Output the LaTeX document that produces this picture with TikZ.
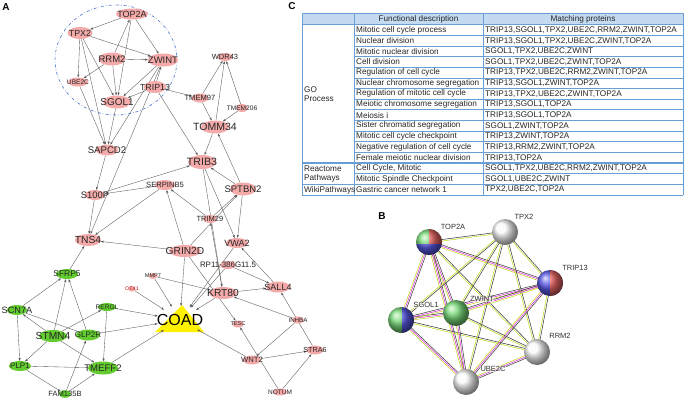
\documentclass[tikz,border=0pt]{standalone}
\usepackage{fontspec}
\setmainfont{Liberation Sans}
\usetikzlibrary{arrows.meta,shapes.geometric,calc}
\pgfdeclarelayer{bgw}
\pgfdeclarelayer{bg}
\pgfsetlayers{bgw,bg,main}
\definecolor{pnk}{HTML}{F5AAAA}
\definecolor{grn}{HTML}{62CC2E}
\definecolor{edg}{HTML}{555555}
\definecolor{tbl}{HTML}{6A9FD6}
\definecolor{hdr}{HTML}{C3DAF0}
\definecolor{ygn}{HTML}{C2DB22}
\definecolor{mag}{HTML}{E030E0}
\definecolor{clu}{HTML}{4A78C8}
\definecolor{sgreen}{HTML}{78D878}
\definecolor{sblue}{HTML}{5858E6}
\definecolor{sred}{HTML}{EA6464}
\newcommand\zb[1]{\makebox[0pt]{#1}}
\newcommand\fsz[1]{\fontsize{#1}{#1}\selectfont}
\newcommand\bii[2]{%
  \draw[bk] ($(#1)!0.75pt!90:(#2)$) -- ($(#2)!0.75pt!-90:(#1)$);
  \draw[yg] ($(#1)!0.75pt!-90:(#2)$) -- ($(#2)!0.75pt!90:(#1)$);}
\newcommand\biii[2]{%
  \draw[bk] ($(#1)!1.4pt!90:(#2)$) -- ($(#2)!1.4pt!-90:(#1)$);
  \draw[mg] (#1.center) -- (#2.center);
  \draw[yg] ($(#1)!1.4pt!-90:(#2)$) -- ($(#2)!1.4pt!90:(#1)$);}
\tikzset{
  pk/.style 2 args={ellipse, fill=pnk, inner sep=0pt, minimum width=#1pt, minimum height=#2pt, text=black!85},
  gk/.style 2 args={ellipse, fill=grn, inner sep=0pt, minimum width=#1pt, minimum height=#2pt, text=black!85},
  ar/.style={draw=edg, line width=0.35pt, -{Stealth[length=3pt,width=2.2pt]}},
  ln/.style={draw=edg, line width=0.35pt},
  bn/.style={circle, minimum size=26pt, inner sep=0pt},
  bk/.style={draw=black!75, line width=0.55pt},
  yg/.style={draw=ygn, line width=0.55pt},
  mg/.style={draw=mag, line width=0.55pt},
  blab/.style={font=\fsz{7.5}, text=black!80, inner sep=0.6pt, fill=white, fill opacity=0.6, text opacity=1},
  plab/.style={font=\fsz{10}\bfseries, inner sep=0pt},
  tb/.style={draw=tbl, line width=0.7pt},
  tx/.style={font=\fsz{8.2}, text=black!85, inner sep=0pt, anchor=west},
}
\begin{document}
\begin{tikzpicture}[x=1pt,y=-1pt]
\useasboundingbox (0,0) rectangle (685,402);
\begin{pgfonlayer}{bgw}
\fill[white] (0,0) rectangle (685,402);
\end{pgfonlayer}

% ---------------- Panel A ----------------
\node[plab] (labA) at (6,7) {A};
\draw[clu, line width=0.6pt, dash dot] (116,60) ellipse [x radius=61, y radius=55];

\node[pk={32}{11}, font=\fsz{9}] (TOP2A) at (132,14) {\zb{TOP2A}};
\node[pk={25}{12}, font=\fsz{8.8}] (TPX2) at (80,33) {\zb{TPX2}};
\node[pk={27}{13}, font=\fsz{9.5}] (RRM2) at (112,59) {\zb{RRM2}};
\node[pk={30}{13}, font=\fsz{9.5}] (ZWINT) at (163,60) {\zb{ZWINT}};
\node[pk={20}{9}, font=\fsz{6.6}] (UBE2C) at (78,82) {\zb{UBE2C}};
\node[pk={22}{12}, font=\fsz{8.8}] (TRIP13) at (155,87) {\zb{TRIP13}};
\node[pk={28}{13}, font=\fsz{9.9}] (SGOL1) at (117,102) {\zb{SGOL1}};
\node[pk={15}{8}, font=\fsz{7.5}] (WDR43) at (225,57) {\zb{WDR43}};
\node[pk={17}{9}, font=\fsz{7.6}] (TMEM97) at (200,98) {\zb{TMEM97}};
\node[pk={12}{8}, font=\fsz{6.6}] (TMEM206) at (242,108) {\zb{TMEM206}};
\node[pk={28}{13}, font=\fsz{10.5}] (TOMM34) at (215,127) {\zb{TOMM34}};
\node[pk={22}{11}, font=\fsz{9.6}] (SAPCD2) at (107,150) {\zb{SAPCD2}};
\node[pk={20}{10}, font=\fsz{9.4}] (S100P) at (95,195) {\zb{S100P}};
\node[pk={20}{10}, font=\fsz{7.6}] (SERPINB5) at (165,185) {\zb{SERPINB5}};
\node[pk={26}{12}, font=\fsz{10.3}] (TNS4) at (88,240) {\zb{TNS4}};
\node[pk={28}{14}, font=\fsz{10.6}] (TRIB3) at (202,162) {\zb{TRIB3}};
\node[pk={26}{13}, font=\fsz{9.5}] (SPTBN2) at (243,189) {\zb{SPTBN2}};
\node[pk={14}{8}, font=\fsz{7.5}] (TRIM29) at (210,219) {\zb{TRIM29}};
\node[pk={22}{10}, font=\fsz{9.1}] (VWA2) at (237,243) {\zb{VWA2}};
\node[pk={32}{12}, font=\fsz{10.2}] (GRIN2D) at (185,251) {\zb{GRIN2D}};
\node[pk={16}{8}, font=\fsz{7.9}] (RP11) at (228,265) {\zb{RP11-386G11.5}};
\node[pk={24}{11}, font=\fsz{9}] (SALL4) at (278,287) {\zb{SALL4}};
\node[pk={28}{12}, font=\fsz{10.2}] (KRT80) at (223,293) {\zb{KRT80}};
\node[pk={9}{6}, font=\fsz{5.6}] (MMP7) at (153,276) {\zb{MMP7}};
\node[pk={7}{5}, font=\fsz{5.2}, text=red!70!black] (OTX1) at (132,289) {\zb{OTX1}};
\node[pk={12}{7}, font=\fsz{5.6}] (TESC) at (238,324) {\zb{TESC}};
\node[pk={12}{7}, font=\fsz{6.2}] (INHBA) at (298,320) {\zb{INHBA}};
\node[pk={17}{9}, font=\fsz{7.2}] (STRA6) at (315,350) {\zb{STRA6}};
\node[pk={18}{9}, font=\fsz{7.7}] (WNT2) at (252,360) {\zb{WNT2}};
\node[pk={14}{7}, font=\fsz{6.5}] (NOTUM) at (280,392) {\zb{NOTUM}};

\node[gk={22}{10}, font=\fsz{8.4}] (SFRP5) at (67,274) {\zb{SFRP5}};
\node[gk={20}{10}, font=\fsz{9.2}] (SCN7A) at (17,310) {\zb{SCN7A}};
\node[gk={18}{8}, font=\fsz{6.6}] (RERGL) at (107,307) {\zb{RERGL}};
\node[gk={28}{12}, font=\fsz{10.2}] (STMN4) at (53,336) {\zb{STMN4}};
\node[gk={24}{11}, font=\fsz{8}] (GLP2R) at (88,335) {\zb{GLP2R}};
\node[gk={22}{10}, font=\fsz{8}] (PLP1) at (20,366) {\zb{PLP1}};
\node[gk={30}{13}, font=\fsz{9.6}] (TMEFF2) at (103,368) {\zb{TMEFF2}};
\node[gk={12}{7}, font=\fsz{7.6}] (FAM135B) at (65,394) {\zb{FAM135B}};

\begin{pgfonlayer}{bgw}
\fill[yellow] (155,332) -- (182,305) -- (204,332) -- cycle;
\end{pgfonlayer}
\node[ellipse, minimum width=46pt, minimum height=28pt, inner sep=0pt, font=\fsz{16}] (COAD) at (180,320) {\zb{COAD}};

% edges of A (behind the nodes)
\begin{pgfonlayer}{bg}
\foreach \a/\b in {TOP2A/TPX2, TOP2A/ZWINT, TPX2/ZWINT, RRM2/TOP2A, TOP2A/SGOL1, RRM2/ZWINT,
  RRM2/UBE2C, RRM2/SGOL1, TPX2/UBE2C, TPX2/SGOL1, TPX2/SAPCD2, UBE2C/SAPCD2, ZWINT/SGOL1,
  TRIP13/SGOL1, TRIP13/ZWINT, ZWINT/TNS4, ZWINT/SAPCD2, SGOL1/SAPCD2, TRIP13/TMEM97, TRIP13/TRIB3,
  TMEM97/WDR43, TOMM34/WDR43, TMEM206/WDR43, TMEM97/TOMM34, TMEM206/TOMM34, TOMM34/TRIB3,
  SPTBN2/TOMM34, SPTBN2/TRIB3, SPTBN2/VWA2, TRIB3/VWA2, TRIB3/KRT80, KRT80/TRIM29,
  TRIM29/SERPINB5, TRIM29/SPTBN2, GRIN2D/SPTBN2, GRIN2D/SERPINB5, GRIN2D/TNS4, SERPINB5/TNS4,
  SERPINB5/S100P, S100P/TRIB3, SAPCD2/S100P, S100P/TNS4, GRIN2D/TESC, RP11/SALL4, SALL4/VWA2,
  KRT80/SALL4, MMP7/KRT80, INHBA/KRT80, INHBA/WNT2, STRA6/SALL4, WNT2/STRA6, NOTUM/STRA6,
  NOTUM/TESC, WNT2/COAD, GRIN2D/COAD, VWA2/COAD, RP11/COAD, KRT80/COAD, MMP7/COAD, OTX1/COAD,
  RERGL/COAD, GLP2R/COAD, TMEFF2/COAD, SFRP5/TNS4, SCN7A/SFRP5, STMN4/SFRP5, GLP2R/SFRP5,
  STMN4/SCN7A, SCN7A/PLP1, STMN4/PLP1, STMN4/TMEFF2, STMN4/RERGL, RERGL/TMEFF2, PLP1/FAM135B,
  FAM135B/TMEFF2, FAM135B/GLP2R}
  \draw[ar] (\a) -- (\b);
\draw[ln] (SCN7A) -- (GLP2R);
\draw[ln] (PLP1) -- (TMEFF2);
\end{pgfonlayer}

% ---------------- Panel B ----------------
\node[plab] (labB) at (382,216) {B};
\node[bn] (bTOP2A) at (429,242) {};
\node[bn] (bTPX2) at (505,232) {};
\node[bn] (bTRIP13) at (550,283) {};
\node[bn] (bRRM2) at (537,352) {};
\node[bn] (bUBE2C) at (466,382) {};
\node[bn] (bZWINT) at (456,313) {};
\node[bn] (bSGOL1) at (401,320) {};

\bii{bTOP2A}{bTPX2}
\biii{bTOP2A}{bTRIP13}
\bii{bTOP2A}{bRRM2}
\biii{bTOP2A}{bZWINT}
\biii{bTOP2A}{bSGOL1}
\biii{bTOP2A}{bUBE2C}
\bii{bTPX2}{bSGOL1}
\bii{bTPX2}{bZWINT}
\bii{bTPX2}{bTRIP13}
\bii{bTPX2}{bRRM2}
\bii{bTPX2}{bUBE2C}
\biii{bSGOL1}{bZWINT}
\biii{bSGOL1}{bTRIP13}
\bii{bSGOL1}{bRRM2}
\biii{bSGOL1}{bUBE2C}
\biii{bZWINT}{bTRIP13}
\biii{bZWINT}{bUBE2C}
\bii{bZWINT}{bRRM2}
\bii{bTRIP13}{bRRM2}
\biii{bTRIP13}{bUBE2C}
\biii{bRRM2}{bUBE2C}

% balls
\shade[ball color=sgreen] (bTOP2A) circle (13pt);
\begin{scope}
  \clip (bTOP2A) ++(0,-14) rectangle ++(14,16);
  \shade[ball color=sred] (bTOP2A) circle (13pt);
\end{scope}
\begin{scope}
  \clip (bTOP2A) ++(-14,2) rectangle ++(28,12);
  \shade[ball color=sblue] (bTOP2A) circle (13pt);
\end{scope}
\shade[ball color=white!95!gray] (bTPX2) circle (13pt);
\shade[ball color=sblue] (bTRIP13) circle (13pt);
\begin{scope}
  \clip (bTRIP13) ++(0,-14) rectangle ++(14,28);
  \shade[ball color=sred] (bTRIP13) circle (13pt);
\end{scope}
\shade[ball color=white!95!gray] (bRRM2) circle (13pt);
\shade[ball color=white!95!gray] (bUBE2C) circle (13pt);
\shade[ball color=sgreen] (bZWINT) circle (13pt);
\shade[ball color=sgreen] (bSGOL1) circle (13pt);
\begin{scope}
  \clip (bSGOL1) ++(1,-14) rectangle ++(14,28);
  \shade[ball color=sblue] (bSGOL1) circle (13pt);
\end{scope}

\node[blab] (lTOP2A) at (453,227) {TOP2A};
\node[blab] (lTPX2) at (524,217) {TPX2};
\node[blab] (lTRIP13) at (575,268) {TRIP13};
\node[blab] (lRRM2) at (560,336) {RRM2};
\node[blab] (lUBE2C) at (493,369) {UBE2C};
\node[blab] (lZWINT) at (482,299) {ZWINT};
\node[blab] (lSGOL1) at (426,305) {SGOL1};

% ---------------- Panel C ----------------
\node[plab] (labC) at (292,6) {C};
\fill[hdr] (302,13) rectangle (683,24.7);
\foreach \i in {0,...,16}
  \draw[tb] (354,{24.7+10.64*\i}) -- (683,{24.7+10.64*\i});
\draw[tb] (302,13) -- (683,13);
\draw[tb] (302,24.7) -- (354,24.7);
\draw[tb, line width=1.3pt] (302,{24.7+10.64*13}) -- (683,{24.7+10.64*13});
\draw[tb, line width=1.3pt] (302,{24.7+10.64*15}) -- (683,{24.7+10.64*15});
\draw[tb] (302,{24.7+10.64*16}) -- (683,{24.7+10.64*16});
\draw[tb] (302,13) -- (302,{24.7+10.64*16});
\draw[tb] (354,13) -- (354,{24.7+10.64*16});
\draw[tb] (483,13) -- (483,{24.7+10.64*16});
\draw[tb] (683,13) -- (683,{24.7+10.64*16});

\node[tx, anchor=center] (h2) at (418.5,19) {Functional description};
\node[tx, anchor=center] (h3) at (583,19) {Matching proteins};
\node[tx, align=left] (g1) at (304,94) {GO\\[1.2pt]Process};
\node[tx, align=left] (g2) at (304,174) {Reactome\\[1.2pt]Pathways};
\node[tx] (g3) at (304,190) {WikiPathways};

\foreach \a/\b [count=\i] in {
  {Mitotic cell cycle process}/{TRIP13,SGOL1,TPX2,UBE2C,RRM2,ZWINT,TOP2A},
  {Nuclear division}/{TRIP13,SGOL1,TPX2,UBE2C,ZWINT,TOP2A},
  {Mitotic nuclear division}/{SGOL1,TPX2,UBE2C,ZWINT},
  {Cell division}/{SGOL1,TPX2,UBE2C,ZWINT,TOP2A},
  {Regulation of cell cycle}/{TRIP13,TPX2,UBE2C,RRM2,ZWINT,TOP2A},
  {Nuclear chromosome segregation}/{TRIP13,SGOL1,ZWINT,TOP2A},
  {Regulation of mitotic cell cycle}/{TRIP13,TPX2,UBE2C,ZWINT,TOP2A},
  {Meiotic chromosome segregation}/{TRIP13,SGOL1,TOP2A},
  {Meiosis i}/{TRIP13,SGOL1,TOP2A},
  {Sister chromatid segregation}/{SGOL1,ZWINT,TOP2A},
  {Mitotic cell cycle checkpoint}/{TRIP13,ZWINT,TOP2A},
  {Negative regulation of cell cycle}/{TRIP13,RRM2,ZWINT,TOP2A},
  {Female meiotic nuclear division}/{TRIP13,TOP2A},
  {Cell Cycle, Mitotic}/{SGOL1,TPX2,UBE2C,RRM2,ZWINT,TOP2A},
  {Mitotic Spindle Checkpoint}/{SGOL1,UBE2C,ZWINT},
  {Gastric cancer network 1}/{TPX2,UBE2C,TOP2A}} {
  \node[tx] (d\i) at (356,{24.7+10.64*(\i-0.5)}) {\a};
  \node[tx] (m\i) at (485,{24.7+10.64*(\i-0.5)}) {\b};
}
\end{tikzpicture}
\end{document}
